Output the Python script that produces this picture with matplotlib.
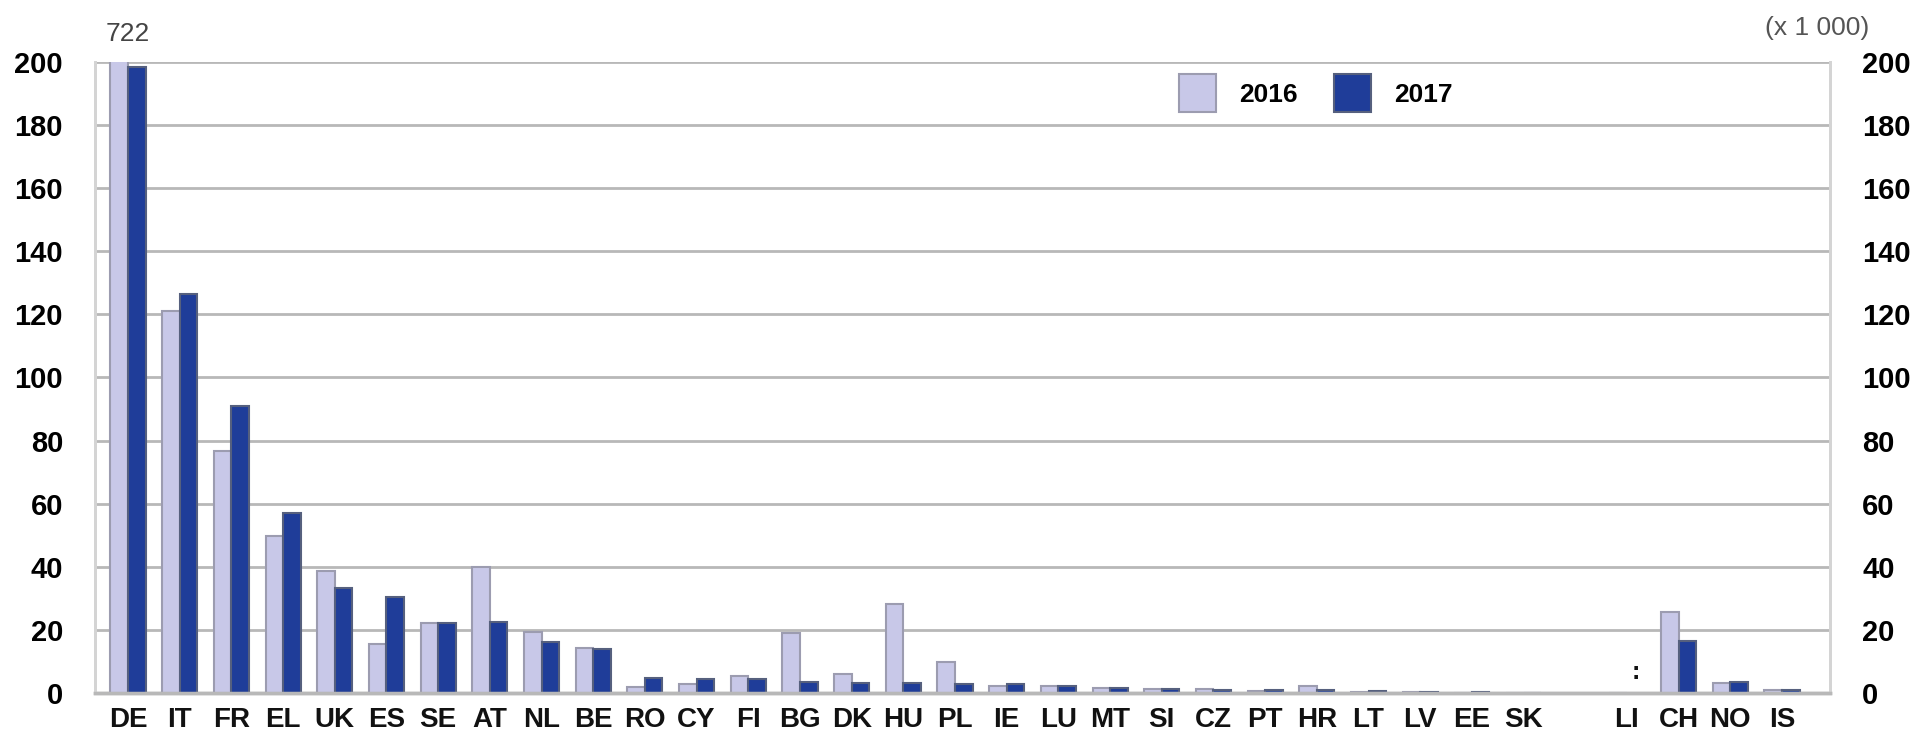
import matplotlib.pyplot as plt
import numpy as np

plt.rcParams['font.family'] = ['Liberation Sans', 'DejaVu Sans']

countries = ["DE", "IT", "FR", "EL", "UK", "ES", "SE", "AT", "NL", "BE", "RO", "CY",
             "FI", "BG", "DK", "HU", "PL", "IE", "LU", "MT", "SI", "CZ", "PT", "HR",
             "LT", "LV", "EE", "SK", "", "LI", "CH", "NO", "IS"]
# thousands, None = not available / gap slot
v2016 = [722, 121.2, 76.8, 49.9, 38.8, 15.6, 22.3, 39.9, 19.3, 14.3, 1.9, 2.8,
         5.3, 19.0, 5.9, 28.2, 9.8, 2.2, 2.1, 1.7, 1.3, 1.2, 0.7, 2.1,
         0.4, 0.35, 0.15, 0.1, None, 0.1, 25.8, 3.3, 1.1]
v2017 = [198.3, 126.6, 91.1, 56.9, 33.3, 30.4, 22.2, 22.5, 16.1, 14.0, 4.7, 4.5,
         4.3, 3.5, 3.1, 3.1, 3.0, 2.9, 2.3, 1.6, 1.4, 1.1, 1.0, 0.9,
         0.5, 0.35, 0.18, 0.15, None, None, 16.6, 3.5, 1.1]

light = "#c8c8e8"
dark = "#1f3d99"

fig = plt.figure(figsize=(19.26, 7.37), dpi=100)
ax = fig.add_axes([0.0493, 0.0597, 0.9009, 0.8562])

x = np.arange(len(countries))
w = 0.34
a = np.array([np.nan if v is None else v for v in v2016], dtype=float)
b = np.array([np.nan if v is None else v for v in v2017], dtype=float)
ax.bar(x - w / 2, a, w, color=light, edgecolor="#9c9cb0", linewidth=1.5, zorder=3, label="2016")
ax.bar(x + w / 2, b, w, color=dark, edgecolor="#56607e", linewidth=1.5, zorder=3, label="2017")

ax.set_xlim(-0.64, 32.93)
ax.set_ylim(0, 200)
ax.set_yticks(range(0, 201, 20))
ax.set_xticks(x)
ax.set_xticklabels(countries, fontsize=20, fontweight="bold", color="#111111")
ax.tick_params(axis="both", length=0)
ax.tick_params(axis="x", pad=10)
ax.tick_params(axis="y", labelsize=21, pad=23)
for t in ax.get_yticklabels():
    t.set_fontweight("bold")
ax.yaxis.grid(True, color="#b8b8b8", linewidth=2, zorder=0)
ax.set_axisbelow(True)

ax2 = ax.twinx()
ax2.set_ylim(0, 200)
ax2.set_yticks(range(0, 201, 20))
ax2.tick_params(axis="y", length=0, labelsize=21, pad=23)
for t in ax2.get_yticklabels():
    t.set_fontweight("bold")

for s in [ax, ax2]:
    s.spines["top"].set_visible(False)
    s.spines["left"].set_color("#d4d4d4")
    s.spines["right"].set_color("#d4d4d4")
    s.spines["left"].set_linewidth(2)
    s.spines["right"].set_linewidth(2)
    s.spines["bottom"].set_color("#b8b8b8")
    s.spines["bottom"].set_linewidth(2.5)

# value of the clipped bar
ax.text(0, 205, "722", ha="center", va="bottom", fontsize=19,
        color="#444444", clip_on=False)
# not available marker
ax.text(29 + w / 2, 3, ":", ha="center", va="bottom", fontsize=18,
        fontweight="bold", color="#111111")
fig.text(0.9434, 0.962, "(x 1 000)", ha="center", va="center", fontsize=19, color="#555555")

leg = ax.legend(loc="upper left", bbox_to_anchor=(0.611, 1.018), ncol=2, frameon=False,
                prop={"size": 19, "weight": "bold"}, handlelength=1.4, handleheight=1.8,
                columnspacing=1.35, handletextpad=0.9)

plt.savefig("out.png", dpi=100)
